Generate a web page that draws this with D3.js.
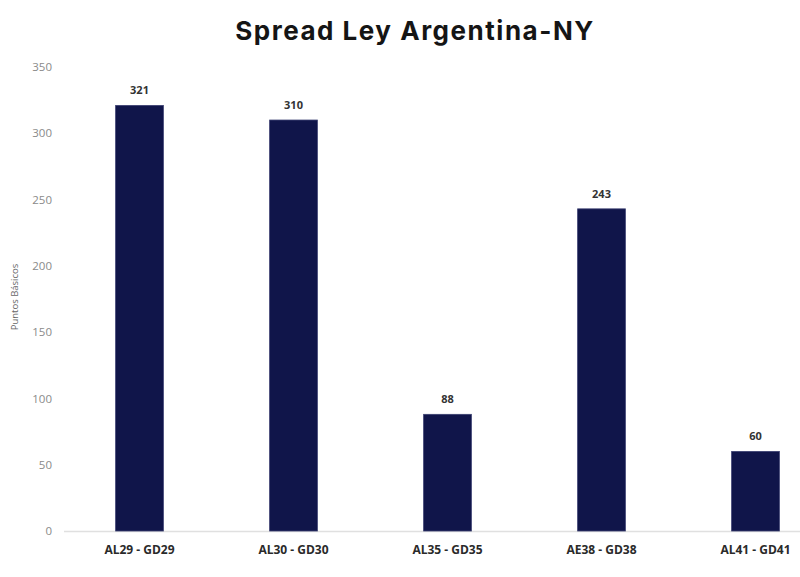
<!DOCTYPE html>
<html><head><meta charset="utf-8">
<script src="https://cdn.jsdelivr.net/npm/d3@7"></script>
<style>body{margin:0;background:#fff}</style>
</head><body>
<svg id="c" width="800" height="577"></svg>
<script>
const categories = ["AL29 - GD29","AL30 - GD30","AL35 - GD35","AE38 - GD38","AL41 - GD41"];
const values = [321, 310, 88, 243, 60];
const yTicks = [0,50,100,150,200,250,300,350];

const svg = d3.select("#c");
const x = d3.scaleBand().domain(categories).range([62.5, 832.5]).paddingInner(0.69).paddingOuter(0.345);
const y = d3.scaleLinear().domain([0,350]).range([531, 67]);

const title = svg.append("text").attr("x", 415).attr("y", 40).attr("text-anchor","middle")
  .attr("font-family","Inter, sans-serif").attr("font-weight","bold")
  .attr("font-size", 26).attr("fill","#151515").text("Spread Ley Argentina-NY");
const tw = title.node().getComputedTextLength();
if (tw < 350) title.attr("letter-spacing", (358 - tw) / 22);

svg.append("line").attr("x1",64).attr("x2",800).attr("y1",y(0)+0.5).attr("y2",y(0)+0.5)
  .attr("stroke","#e0e0e0").attr("stroke-width",1.5);

const yAxis = svg.append("g").attr("transform","translate(52,0)")
  .call(d3.axisLeft(y).tickValues(yTicks).tickSize(0).tickPadding(0));
yAxis.select(".domain").remove();
yAxis.selectAll("text").attr("font-family","Open Sans, sans-serif").attr("font-size",11.5).attr("fill","#8a8a8a");

svg.append("text").attr("transform","translate(18,297) rotate(-90)").attr("text-anchor","middle")
  .attr("font-family","Open Sans, sans-serif").attr("font-size",9.5).attr("fill","#666").text("Puntos Básicos");

svg.selectAll("rect.bar").data(values).join("rect").attr("class","bar")
  .attr("x",(d,i)=>x(categories[i])).attr("width",x.bandwidth())
  .attr("y",d=>y(d)).attr("height",d=>y(0)-y(d))
  .attr("fill","#10154a").attr("stroke","#3a3f70").attr("stroke-width",0.8);

svg.selectAll("text.val").data(values).join("text").attr("class","val")
  .attr("x",(d,i)=>x(categories[i])+x.bandwidth()/2).attr("y",d=>y(d)-11)
  .attr("text-anchor","middle").attr("font-family","Open Sans, sans-serif").attr("font-weight","bold")
  .attr("font-size",11).attr("fill","#333").text(d=>d);

const xAxis = svg.append("g").attr("transform",`translate(0,${y(0)})`)
  .call(d3.axisBottom(x).tickSize(0).tickPadding(14));
xAxis.select(".domain").remove();
xAxis.selectAll("text").attr("font-family","Open Sans, sans-serif").attr("font-weight","bold")
  .attr("font-size",12).attr("fill","#2a2a2a");
</script>
</body></html>
